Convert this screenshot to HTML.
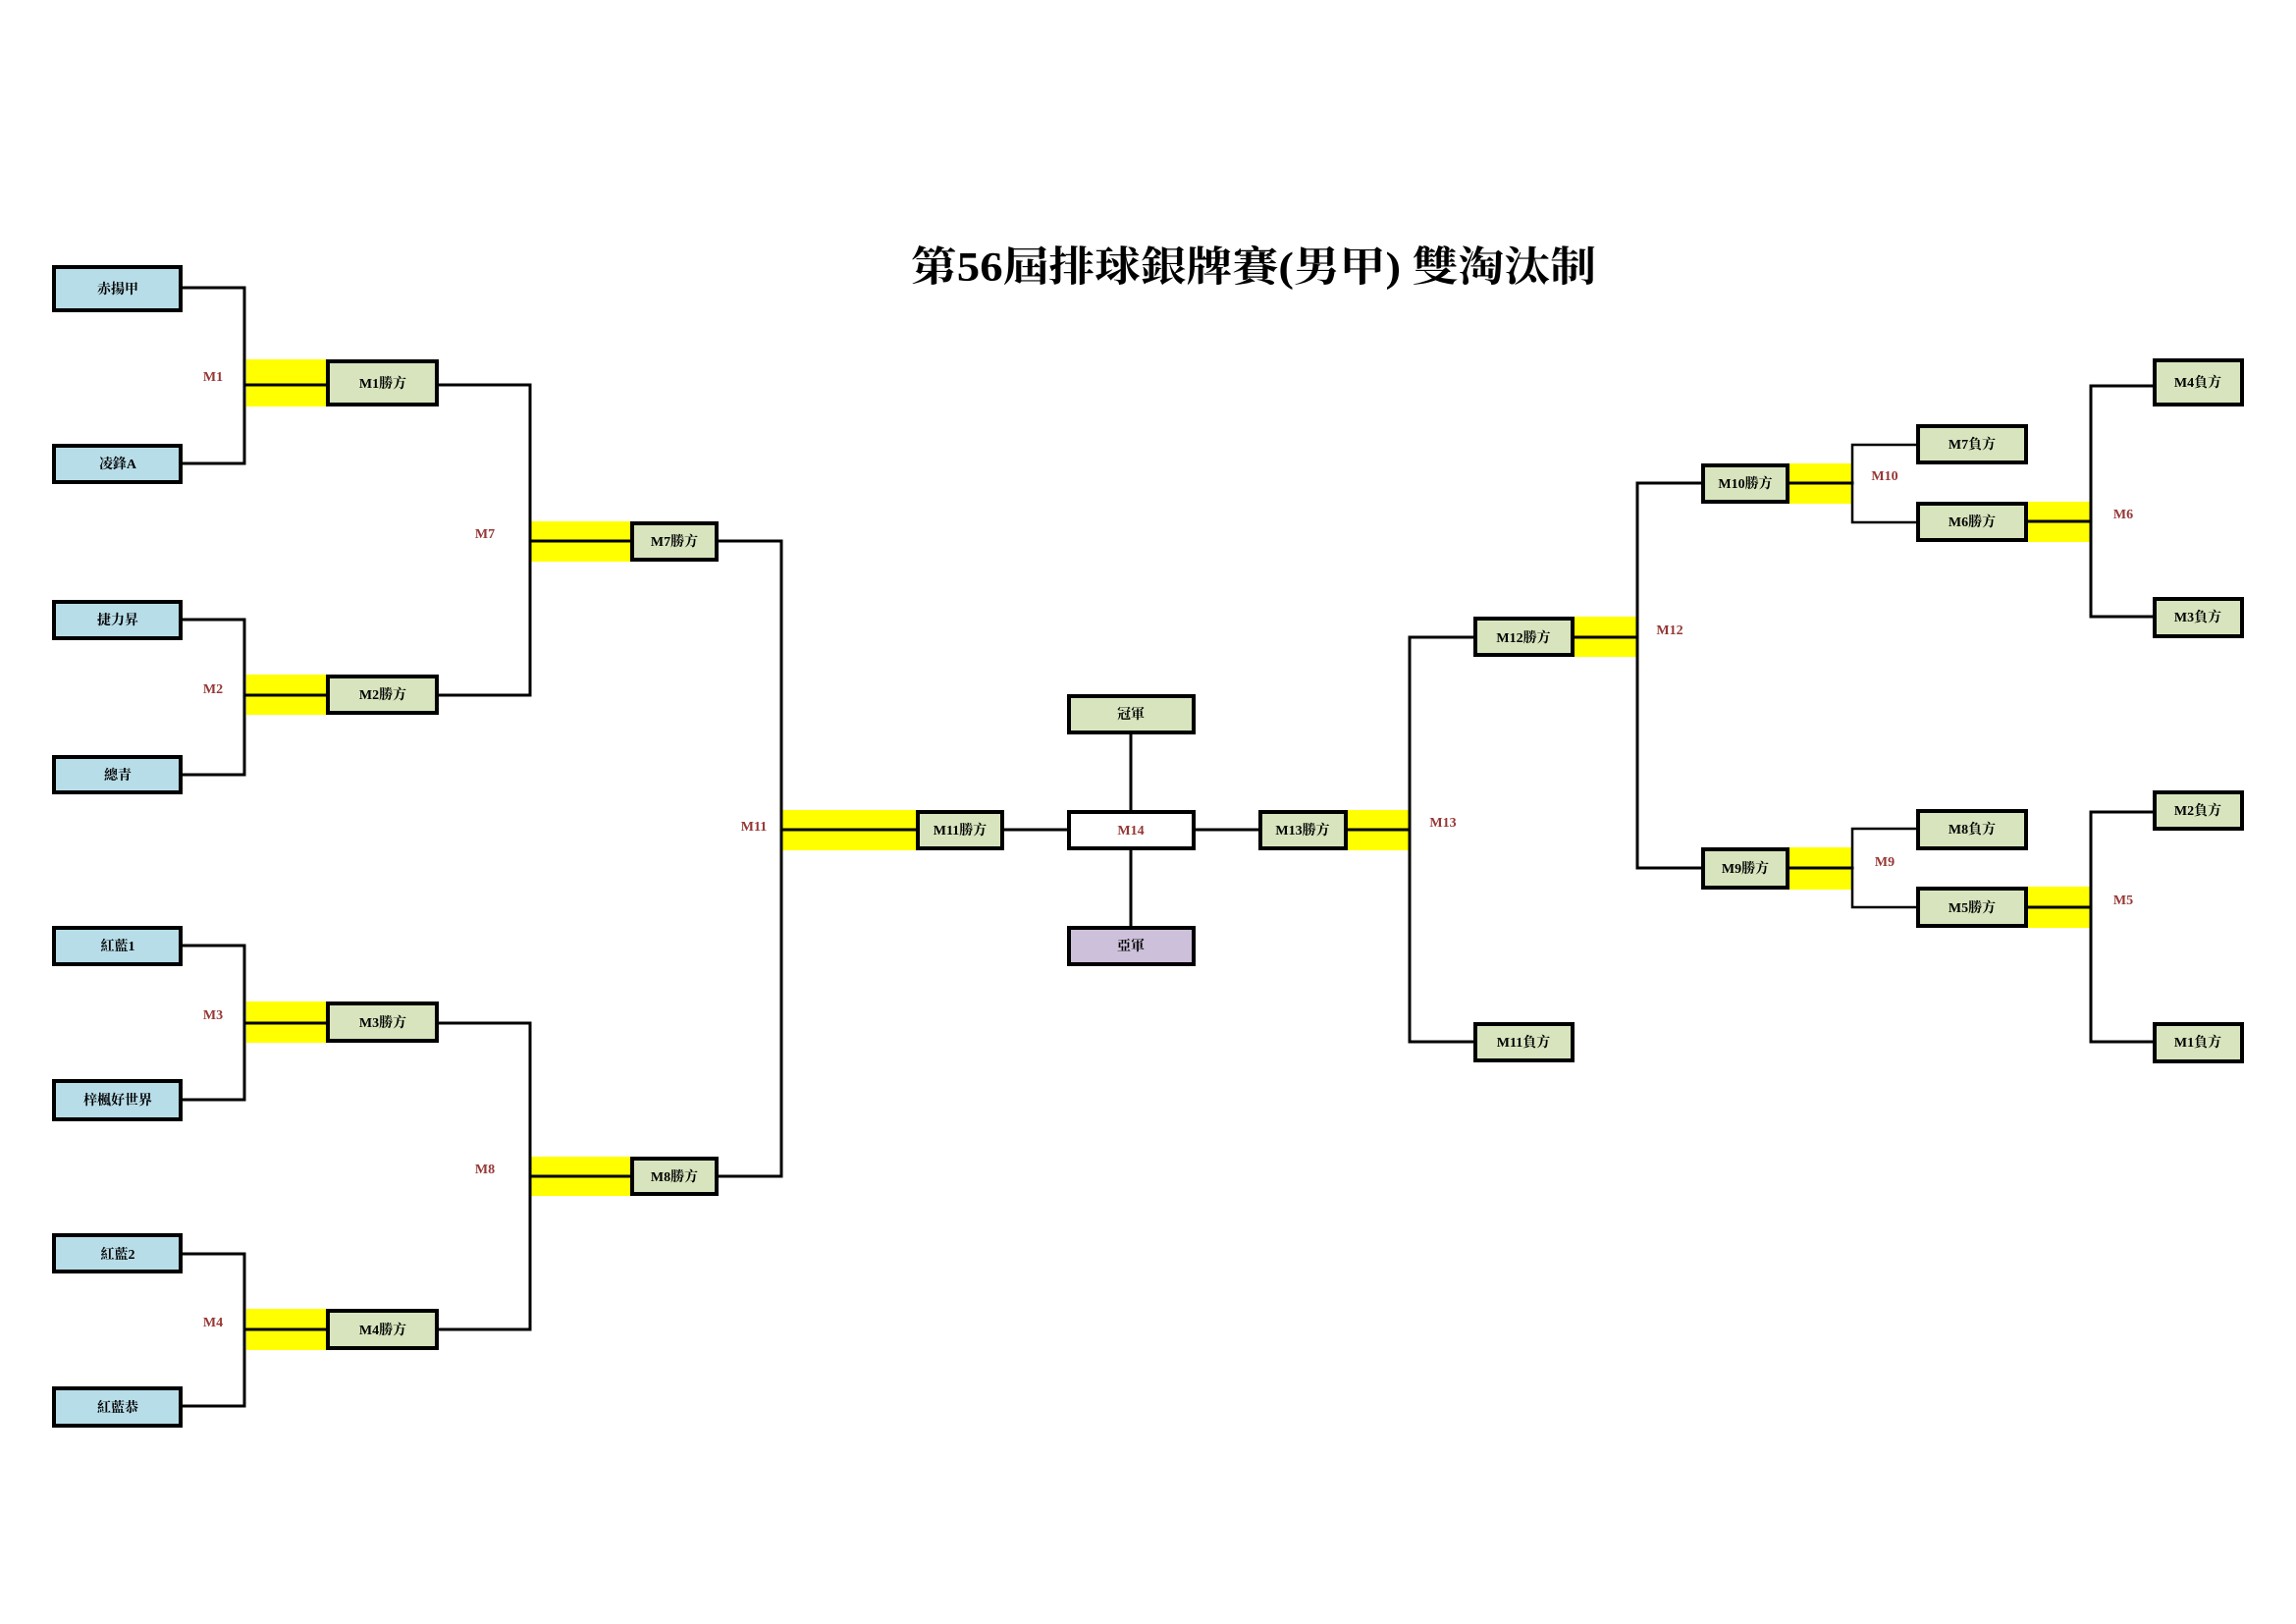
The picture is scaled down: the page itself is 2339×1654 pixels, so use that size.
<!DOCTYPE html>
<html><head><meta charset="utf-8"><style>
html,body{margin:0;padding:0;background:#fff;}
svg{display:block;}
.t{font-family:"Liberation Serif","Noto Serif CJK SC",serif;font-weight:bold;font-size:14px;fill:#000;}
.l{font-family:"Liberation Serif","Noto Serif CJK SC",serif;font-weight:bold;font-size:14px;fill:#953735;}
.ln{stroke:#000;stroke-width:3;fill:none;stroke-linecap:square;}
.tn{stroke:#000;stroke-width:2.5;fill:none;stroke-linecap:square;}
.bx{stroke:#000;stroke-width:4;}
.tm{fill:#b7dde8;}
.wn{fill:#d7e4bd;}
</style></head><body>
<svg width="2339" height="1654" viewBox="0 0 2339 1654" xmlns="http://www.w3.org/2000/svg">
<rect x="0" y="0" width="2339" height="1654" fill="#fff"/>
<text x="928" y="286" textLength="698" lengthAdjust="spacingAndGlyphs" style="font-family:'Liberation Serif','Noto Serif CJK SC',serif;font-size:42px;font-weight:bold;fill:#000;">第56屆排球銀牌賽(男甲) 雙淘汰制</text>

<!-- yellow bands -->
<g fill="#ffff00">
<rect x="251" y="366" width="81" height="48"/>
<rect x="251" y="687" width="81" height="41"/>
<rect x="251" y="1020" width="81" height="42"/>
<rect x="251" y="1333" width="81" height="42"/>
<rect x="541" y="531" width="101" height="41"/>
<rect x="541" y="1178" width="101" height="40"/>
<rect x="797" y="825" width="136" height="41"/>
<rect x="1373" y="825" width="62" height="41"/>
<rect x="1604" y="628" width="63" height="41"/>
<rect x="1823" y="472" width="64" height="41"/>
<rect x="1823" y="863" width="64" height="43"/>
<rect x="2066" y="511" width="63" height="41"/>
<rect x="2066" y="903" width="63" height="42"/>
</g>

<!-- connector lines -->
<g class="ln">
<!-- M1 -->
<path d="M186 293 H249 V472 H186"/>
<path d="M249 392 H332"/>
<!-- M2 -->
<path d="M186 631 H249 V789 H186"/>
<path d="M249 708 H332"/>
<!-- M3 -->
<path d="M186 963 H249 V1120 H186"/>
<path d="M249 1042 H332"/>
<!-- M4 -->
<path d="M186 1277 H249 V1432 H186"/>
<path d="M249 1354 H332"/>
<!-- M7 -->
<path d="M447 392 H540 V708 H447"/>
<path d="M540 551 H642"/>
<!-- M8 -->
<path d="M447 1042 H540 V1354 H447"/>
<path d="M540 1198 H642"/>
<!-- M11 -->
<path d="M732 551 H796 V1198 H732"/>
<path d="M796 845 H933"/>
<!-- M14 -->
<path d="M1023 845 H1087"/>
<path d="M1218 845 H1282"/>
<path d="M1152 748 V825"/>
<path d="M1152 866 V943"/>
<!-- M13 -->
<path d="M1373 845 H1436"/>
<path d="M1501 649 H1436 V1061 H1501"/>
<!-- M12 -->
<path d="M1604 649 H1668"/>
<path d="M1733 492 H1668 V884 H1733"/>
<!-- M10 / M9 -->
<path d="M1823 492 H1887"/>
<path d="M1823 884 H1887"/>
<!-- M6 -->
<path d="M2066 531 H2130"/>
<path d="M2193 393 H2130 V628 H2193"/>
<!-- M5 -->
<path d="M2066 924 H2130"/>
<path d="M2193 827 H2130 V1061 H2193"/>
</g>
<g class="tn">
<path d="M1952 453 H1887 V532 H1952"/>
<path d="M1952 844 H1887 V924 H1952"/>
</g>

<!-- team boxes -->
<g class="bx">
<rect class="tm" x="55" y="272" width="129" height="44"/>
<rect class="tm" x="55" y="454" width="129" height="37"/>
<rect class="tm" x="55" y="613" width="129" height="37"/>
<rect class="tm" x="55" y="771" width="129" height="36"/>
<rect class="tm" x="55" y="945" width="129" height="37"/>
<rect class="tm" x="55" y="1101" width="129" height="39"/>
<rect class="tm" x="55" y="1258" width="129" height="37"/>
<rect class="tm" x="55" y="1414" width="129" height="38"/>

<rect class="wn" x="334" y="368" width="111" height="44"/>
<rect class="wn" x="334" y="689" width="111" height="37"/>
<rect class="wn" x="334" y="1022" width="111" height="38"/>
<rect class="wn" x="334" y="1335" width="111" height="38"/>

<rect class="wn" x="644" y="533" width="86" height="37"/>
<rect class="wn" x="644" y="1180" width="86" height="36"/>

<rect class="wn" x="935" y="827" width="86" height="37"/>
<rect fill="#ffffff" x="1089" y="827" width="127" height="37"/>
<rect class="wn" x="1089" y="709" width="127" height="37"/>
<rect fill="#ccc0da" x="1089" y="945" width="127" height="37"/>
<rect class="wn" x="1284" y="827" width="87" height="37"/>

<rect class="wn" x="1503" y="630" width="99" height="37"/>
<rect class="wn" x="1503" y="1043" width="99" height="37"/>

<rect class="wn" x="1735" y="474" width="86" height="37"/>
<rect class="wn" x="1735" y="865" width="86" height="39"/>

<rect class="wn" x="1954" y="434" width="110" height="37"/>
<rect class="wn" x="1954" y="513" width="110" height="37"/>
<rect class="wn" x="1954" y="826" width="110" height="38"/>
<rect class="wn" x="1954" y="905" width="110" height="38"/>

<rect class="wn" x="2195" y="367" width="89" height="45"/>
<rect class="wn" x="2195" y="610" width="89" height="38"/>
<rect class="wn" x="2195" y="807" width="89" height="37"/>
<rect class="wn" x="2195" y="1043" width="89" height="38"/>
</g>

<!-- box text -->
<g class="t" text-anchor="middle">
<text x="120" y="299">赤揚甲</text>
<text x="120" y="477">凌鋒A</text>
<text x="120" y="636">捷力昇</text>
<text x="120" y="794">總青</text>
<text x="120" y="968">紅藍1</text>
<text x="120" y="1125">梓楓好世界</text>
<text x="120" y="1282">紅藍2</text>
<text x="120" y="1438">紅藍恭</text>

<text x="390" y="395">M1勝方</text>
<text x="390" y="712">M2勝方</text>
<text x="390" y="1046">M3勝方</text>
<text x="390" y="1359">M4勝方</text>

<text x="687" y="556">M7勝方</text>
<text x="687" y="1203">M8勝方</text>
<text x="978" y="850">M11勝方</text>
<text x="1152" y="732">冠軍</text>
<text x="1152" y="968">亞軍</text>
<text x="1327" y="850">M13勝方</text>
<text x="1552" y="654">M12勝方</text>
<text x="1552" y="1066">M11負方</text>
<text x="1778" y="497">M10勝方</text>
<text x="1778" y="889">M9勝方</text>
<text x="2009" y="457">M7負方</text>
<text x="2009" y="536">M6勝方</text>
<text x="2009" y="849">M8負方</text>
<text x="2009" y="929">M5勝方</text>
<text x="2239" y="394">M4負方</text>
<text x="2239" y="633">M3負方</text>
<text x="2239" y="830">M2負方</text>
<text x="2239" y="1066">M1負方</text>
</g>

<!-- match labels -->
<g class="l" text-anchor="middle">
<text x="217" y="388">M1</text>
<text x="217" y="706">M2</text>
<text x="217" y="1038">M3</text>
<text x="217" y="1351">M4</text>
<text x="494" y="548">M7</text>
<text x="494" y="1195">M8</text>
<text x="768" y="846">M11</text>
<text x="1152" y="850">M14</text>
<text x="1470" y="842">M13</text>
<text x="1701" y="646">M12</text>
<text x="1920" y="489">M10</text>
<text x="1920" y="882">M9</text>
<text x="2163" y="528">M6</text>
<text x="2163" y="921">M5</text>
</g>
</svg>
</body></html>
